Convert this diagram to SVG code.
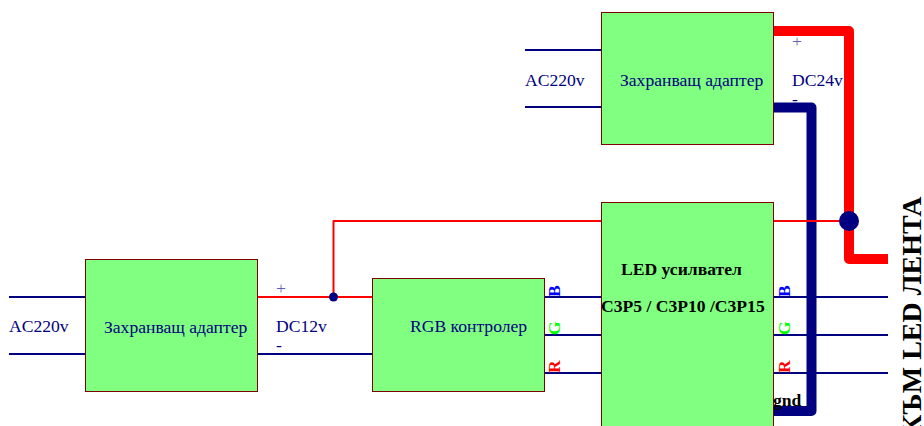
<svg xmlns="http://www.w3.org/2000/svg" width="924" height="426" viewBox="0 0 924 426">
<style>
.box{fill:#80ff80;stroke:#800000;stroke-width:1}
.t{font-family:"Liberation Serif","Times New Roman",serif;font-size:17.6px;fill:#000080}
.s{font-family:"Liberation Serif","Times New Roman",serif;font-size:17.6px;fill:#000080;font-weight:normal}
.p{fill-opacity:.65}
.b{font-family:"Liberation Serif","Times New Roman",serif;font-size:17.6px;font-weight:bold;fill:#000}
.c{font-family:"Liberation Serif","Times New Roman",serif;font-size:17.6px;font-weight:bold}
.n,.r,.N,.R{fill:none;stroke-linejoin:round}
.n{stroke:#000080;stroke-width:2}
.r{stroke:#f00;stroke-width:2}
.N{stroke:#000080;stroke-width:10}
.R{stroke:#f00;stroke-width:10}
</style>
<rect width="924" height="426" fill="#fff"/>
<g id="connectors">
<path class="n" d="M525 50H601M525 107H601M9 297H85M9 354H85M257 354H372M544 297H601M544 335H601M544 373H601M773 297H888M773 335H888M773 373H888"/>
<path class="N" d="M773 107.500H811.500V411H773"/>
<path class="R" d="M773 31H849V259H888"/>
<path class="r" d="M257 297H372M333.500 297V221H601M773 221H849"/>
<circle cx="333.500" cy="297" r="4.500" fill="#000080"/>
<circle cx="849" cy="221" r="10" fill="#000080"/>
</g>
<g id="adapter-top">
<rect class="box" x="601.500" y="12.500" width="172" height="132"/>
<text class="t" x="620" y="86">Захранващ адаптер</text>
<text class="t" x="525" y="86">AC220v</text>
<text class="t" x="792" y="86">DC24v</text>
<text class="s p" x="792" y="47">+</text>
<text class="s" x="792" y="105">-</text>
</g>
<g id="adapter-left">
<rect class="box" x="85.500" y="259.500" width="172" height="132"/>
<text class="t" x="104" y="333">Захранващ адаптер</text>
<text class="t" x="9" y="332">AC220v</text>
<text class="t" x="276" y="332">DC12v</text>
<text class="s p" x="276" y="294">+</text>
<text class="s" x="276" y="351">-</text>
</g>
<g id="rgb-controller">
<rect class="box" x="372.500" y="278.500" width="172" height="113"/>
<text class="t" x="410" y="332">RGB контролер</text>
<text class="c" transform="translate(560,297) rotate(-90)" fill="#00f">B</text>
<text class="c" transform="translate(560,335) rotate(-90)" fill="#0f0">G</text>
<text class="c" transform="translate(560,373) rotate(-90)" fill="#f00">R</text>
</g>
<g id="led-amplifier">
<rect class="box" x="601.500" y="202.500" width="172" height="230"/>
<text class="b" x="621" y="275">LED усилвател</text>
<text class="b" x="601" y="312">С3Р5 / С3Р10 /С3Р15</text>
<text class="c" transform="translate(790,297) rotate(-90)" fill="#00f">B</text>
<text class="c" transform="translate(790,335) rotate(-90)" fill="#0f0">G</text>
<text class="c" transform="translate(790,373) rotate(-90)" fill="#f00">R</text>
<text class="b" x="773" y="406">gnd</text>
</g>
<text transform="translate(921,435) rotate(-90)" style="font-family:'Liberation Serif','Times New Roman',serif;font-size:28px;font-weight:bold;fill:#000">КЪМ LED ЛЕНТА</text>
</svg>
